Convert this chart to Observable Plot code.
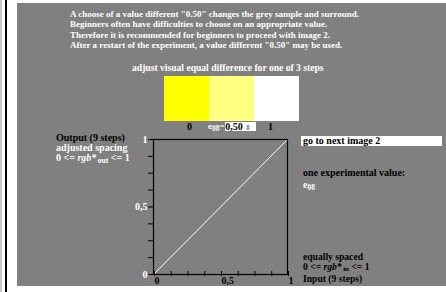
<!DOCTYPE html>
<html>
<head>
<meta charset="utf-8">
<script src="https://cdn.jsdelivr.net/npm/d3@7"></script>
<script src="https://cdn.jsdelivr.net/npm/@observablehq/plot@0.6"></script>
<style>
  html, body { margin: 0; padding: 0; background: #fff; }
  #page { position: relative; width: 446px; height: 292px; overflow: hidden; background: #fff;
          font-family: "Liberation Serif", "Times New Roman", serif; font-weight: bold; font-size: 10px; }
  .abs { position: absolute; white-space: nowrap; }
  .w { color: #fff; }
  .k { color: #000; }
  sub { font-size: 7.5px; vertical-align: baseline; position: relative; top: 1.5px; line-height: 0; }
  i + sub { margin-left: 1.5px; }
</style>
</head>
<body>
<div id="page">
  <div class="abs" style="left:0;top:0;width:2px;height:292px;background:#c8c8c8"></div>
  <div class="abs" style="left:5px;top:0;width:2px;height:292px;background:#000"></div>
  <div class="abs" style="left:17px;top:3px;width:429px;height:283px;background:#808080"></div>

  <div class="abs w" id="intro" style="left:70px;top:8.5px;line-height:10.5px;font-size:9px"></div>
  <div class="abs w" style="left:132px;top:62px;font-size:9.6px">adjust visual equal difference for one of 3 steps</div>
  <div class="abs" id="patches" style="left:164px;top:76px"></div>
  <div class="abs k" style="left:187px;top:121px">0</div>
  <div class="abs w" style="left:208px;top:121px;font-size:9px;line-height:11px">e<sub>08</sub>=<span class="k" style="display:inline-block;margin-left:0.5px;width:31px;height:9px;background:#fff;line-height:9px;font-size:10px;vertical-align:-1px">0,50<span style="font-size:7px;color:#888;margin-left:2px">&#8661;</span></span></div>
  <div class="abs k" style="left:268px;top:121px">1</div>

  <div class="abs" style="left:56px;top:133px;line-height:10px">
    <div class="k">Output (9 steps)</div>
    <div class="w">adjusted spacing</div>
    <div class="w">0 &lt;= <i>rgb*</i><sub>out</sub> &lt;= 1</div>
  </div>

  <div class="abs" style="left:301px;top:136px;width:141px;height:10px;background:#fff"></div>
  <div class="abs k" style="left:303px;top:135px;line-height:11px">go to next image 2</div>
  <div class="abs k" style="left:303px;top:167px">one experimental value:</div>
  <div class="abs w" style="left:303px;top:179px">e<sub>08</sub></div>

  <div class="abs k" style="left:303px;top:252px;line-height:10px;font-size:9.6px">
    <div>equally spaced</div>
    <div>0 &lt;= <i>rgb*</i><sub style="top:1px;font-size:7px">in</sub> &lt;= 1</div>
    <div style="margin-top:1.5px">Input (9 steps)</div>
  </div>

  <div class="abs" id="chart" style="left:0;top:0"></div>
</div>
<script>
const introLines = [
  'A choose of a value different "0.50" changes the grey sample and surround.',
  'Beginners often have difficulties to choose on an appropriate value.',
  'Therefore it is recommended for beginners to proceed with image 2.',
  'After a restart of the experiment, a value different "0.50" may be used.'
];
const patchSteps = ["0", "e08", "1"];
const patchColors = ["#ffff00", "#ffff80", "#ffffff"];
const axisTicks = [0, 0.125, 0.25, 0.375, 0.5, 0.625, 0.75, 0.875, 1];
const axisTickLabels = ["0", "", "", "", "0,5", "", "", "", "1"];
const diagIn = [0, 1];
const diagOut = [0, 1];

document.getElementById("intro").innerHTML = introLines.map(s => `<div>${s.replace(/</g,"&lt;")}</div>`).join("");

const patchData = patchSteps.map((s, i) => ({step: s, color: patchColors[i]}));
document.getElementById("patches").append(Plot.plot({
  width: 135, height: 45,
  margin: 0,
  x: {type: "band", domain: patchSteps, padding: 0, axis: null},
  style: {background: "transparent"},
  marks: [
    Plot.cell(patchData, {x: "step", fill: "color", inset: 0})
  ]
}));

const labelOf = new Map(axisTicks.map((t, i) => [t, axisTickLabels[i]]));
const diag = diagIn.map((x, i) => ({x, y: diagOut[i]}));

document.getElementById("chart").append(Plot.plot({
  width: 446, height: 292,
  marginLeft: 153, marginRight: 159, marginTop: 139, marginBottom: 18,
  x: {domain: [0, 1]},
  y: {domain: [0, 1]},
  style: {background: "transparent", fontFamily: "Liberation Serif, serif", fontWeight: "bold", fontSize: "10px", overflow: "visible"},
  marks: [
    Plot.line(diag, {x: "x", y: "y", stroke: "white", strokeWidth: 1}),
    Plot.frame({stroke: "black", strokeWidth: 1.2}),
    Plot.axisX({ticks: axisTicks, tickSize: 5, tickPadding: 0, tickFormat: d => labelOf.get(d),
                textAnchor: "start", dx: 1, dy: -3, stroke: "black", strokeWidth: 1, fill: "black", label: null}),
    Plot.axisY({ticks: axisTicks, tickSize: 5, tickPadding: 1, tickFormat: d => labelOf.get(d),
                fill: "white", stroke: "black", strokeWidth: 1, label: null})
  ]
}));
</script>
</body>
</html>
